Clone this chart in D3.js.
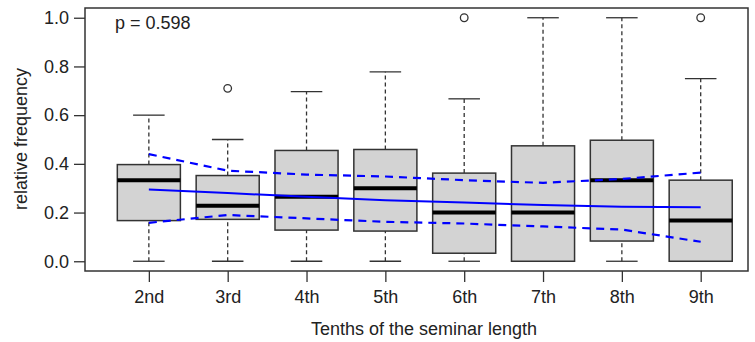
<!DOCTYPE html>
<html>
<head>
<meta charset="utf-8">
<script src="https://cdn.jsdelivr.net/npm/d3@7"></script>
<style>
  body { margin: 0; background: #fff; }
  svg text { font-family: "Liberation Sans", Arial, sans-serif; fill: #222; }
</style>
</head>
<body>
<div id="chart"></div>
<script>
// boxplot stats per tenth of the seminar
const categories = ["2nd", "3rd", "4th", "5th", "6th", "7th", "8th", "9th"]
const whiskerLow = [0, 0, 0, 0, 0, 0, 0, 0]
const q1 = [0.167, 0.172, 0.128, 0.124, 0.033, 0, 0.083, 0]
const medians = [0.333, 0.228, 0.265, 0.3, 0.2, 0.2, 0.333, 0.167]
const q3 = [0.397, 0.352, 0.455, 0.459, 0.362, 0.474, 0.497, 0.333]
const whiskerHigh = [0.6, 0.5, 0.697, 0.778, 0.667, 1.0, 1.0, 0.75]
const outliers = [[], [0.71], [], [], [1.0], [], [], [1.0]]

// fitted trend and confidence band (blue)
const fit = [0.295, 0.28, 0.265, 0.251, 0.241, 0.231, 0.224, 0.222]
const ciUpper = [0.44, 0.372, 0.356, 0.348, 0.333, 0.322, 0.338, 0.364]
const ciLower = [0.158, 0.19, 0.176, 0.162, 0.155, 0.143, 0.13, 0.08]

const yTicks = [0, 0.2, 0.4, 0.6, 0.8, 1.0]
const pLabel = "p = 0.598"

const width = 755, height = 342
const frame = { left: 85, right: 748, top: 8, bottom: 271 }

const svg = d3.select("#chart").append("svg")
  .attr("width", width)
  .attr("height", height)

const x = d3.scaleLinear().domain([0.19, 8.6]).range([frame.left, frame.right])
const y = d3.scaleLinear().domain([-0.04, 1.04]).range([frame.bottom, frame.top])
const unit = x(1) - x(0)
const boxW = 0.8 * unit
const capW = 0.4 * unit

const idx = categories.map((_, i) => i + 1)

// axes
const yAxis = svg.append("g")
  .attr("transform", `translate(${frame.left},0)`)
  .call(d3.axisLeft(y).tickValues(yTicks).tickFormat(d3.format(".1f")).tickSize(11).tickSizeOuter(0).tickPadding(5))
yAxis.select(".domain").remove()
yAxis.selectAll("line").attr("stroke", "#333").attr("stroke-width", 1.3)
yAxis.selectAll("text").style("font-size", "18px").attr("fill", "#222")

const xAxis = svg.append("g")
  .attr("transform", `translate(0,${frame.bottom})`)
  .call(d3.axisBottom(x).tickValues(idx).tickFormat(d => categories[d - 1]).tickSize(11).tickSizeOuter(0).tickPadding(8))
xAxis.select(".domain").remove()
xAxis.selectAll("line").attr("stroke", "#333").attr("stroke-width", 1.3)
xAxis.selectAll("text").style("font-size", "18px").attr("fill", "#222")

// boxes
const g = svg.append("g")
const box = g.selectAll("g.box")
  .data(categories.map((c, i) => ({
    c, i: i + 1, lo: whiskerLow[i], q1: q1[i], med: medians[i], q3: q3[i], hi: whiskerHigh[i], out: outliers[i]
  })))
  .join("g")
  .attr("class", "box")

box.filter(d => d.lo < d.q1).append("line")
  .attr("x1", d => x(d.i)).attr("x2", d => x(d.i))
  .attr("y1", d => y(d.lo)).attr("y2", d => y(d.q1))
  .attr("stroke", "#333").attr("stroke-width", 1.3).attr("stroke-dasharray", "4,3")
box.filter(d => d.lo < d.q1).append("line")
  .attr("x1", d => x(d.i) - capW / 2).attr("x2", d => x(d.i) + capW / 2)
  .attr("y1", d => y(d.lo)).attr("y2", d => y(d.lo))
  .attr("stroke", "#333").attr("stroke-width", 1.3)

box.append("line")
  .attr("x1", d => x(d.i)).attr("x2", d => x(d.i))
  .attr("y1", d => y(d.q3)).attr("y2", d => y(d.hi))
  .attr("stroke", "#333").attr("stroke-width", 1.3).attr("stroke-dasharray", "4,3")
box.append("line")
  .attr("x1", d => x(d.i) - capW / 2).attr("x2", d => x(d.i) + capW / 2)
  .attr("y1", d => y(d.hi)).attr("y2", d => y(d.hi))
  .attr("stroke", "#333").attr("stroke-width", 1.3)

box.append("rect")
  .attr("x", d => x(d.i) - boxW / 2)
  .attr("width", boxW)
  .attr("y", d => y(d.q3))
  .attr("height", d => y(d.q1) - y(d.q3))
  .attr("fill", "#d3d3d3")
  .attr("stroke", "#333")
  .attr("stroke-width", 1.5)

box.append("line")
  .attr("x1", d => x(d.i) - boxW / 2).attr("x2", d => x(d.i) + boxW / 2)
  .attr("y1", d => y(d.med)).attr("y2", d => y(d.med))
  .attr("stroke", "#000").attr("stroke-width", 4)

box.selectAll("circle")
  .data(d => d.out.map(v => ({ i: d.i, v })))
  .join("circle")
  .attr("cx", d => x(d.i))
  .attr("cy", d => y(d.v))
  .attr("r", 3.8)
  .attr("fill", "none")
  .attr("stroke", "#333")
  .attr("stroke-width", 1.3)

// trend + confidence band
const line = vals => d3.line().x((_, i) => x(i + 1)).y(v => y(v))(vals)
svg.append("path").attr("d", line(fit))
  .attr("fill", "none").attr("stroke", "#0000ff").attr("stroke-width", 2)
svg.append("path").attr("d", line(ciUpper))
  .attr("fill", "none").attr("stroke", "#0000ff").attr("stroke-width", 2.2).attr("stroke-dasharray", "8,6")
svg.append("path").attr("d", line(ciLower))
  .attr("fill", "none").attr("stroke", "#0000ff").attr("stroke-width", 2.2).attr("stroke-dasharray", "8,6")

// frame
svg.append("rect")
  .attr("x", frame.left).attr("y", frame.top)
  .attr("width", frame.right - frame.left).attr("height", frame.bottom - frame.top)
  .attr("fill", "none").attr("stroke", "#333").attr("stroke-width", 1.5)

svg.append("text")
  .attr("x", 115).attr("y", 29)
  .style("font-size", "18px")
  .text(pLabel)

svg.append("text")
  .attr("transform", `translate(27,139) rotate(-90)`)
  .attr("text-anchor", "middle")
  .style("font-size", "18px")
  .text("relative frequency")

svg.append("text")
  .attr("x", 424).attr("y", 335)
  .attr("text-anchor", "middle")
  .style("font-size", "18px")
  .text("Tenths of the seminar length")
</script>
</body>
</html>
